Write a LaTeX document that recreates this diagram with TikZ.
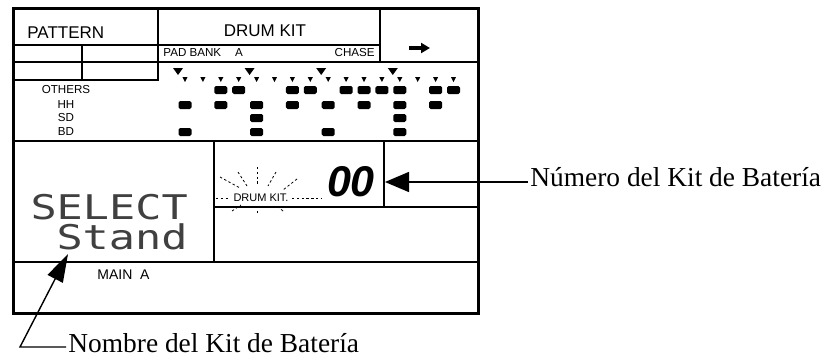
\documentclass[tikz,border=0pt]{standalone}
\usepackage{fontspec}
\setmainfont{Liberation Serif}
\setsansfont{Liberation Sans}
\setmonofont{DejaVu Sans Mono}
\usetikzlibrary{arrows.meta, positioning, calc}

\begin{document}
\begin{tikzpicture}[x=0.5pt, y=-0.5pt,
    outerline/.style={line width=1.5pt},
    rule/.style={line width=1pt},
    hdr/.style={font=\sffamily\fontsize{8.5}{9}\selectfont, inner sep=0pt},
    tag/.style={font=\sffamily\fontsize{5.8}{6}\selectfont, inner sep=0pt},
    blk/.style={fill, rounded corners=0.8pt, minimum width=6.5pt, minimum height=4pt, inner sep=0pt},
    lcd/.style={font=\ttfamily\fontsize{17}{15}\selectfont, inner sep=0pt, anchor=north west,
                xscale=1.28, black!75},
    ray/.style={line width=0.4pt, dash pattern=on 1.2pt off 1.2pt},
    calltext/.style={font=\fontsize{13.7}{16}\selectfont, inner sep=0pt},
    lead/.style={line width=0.7pt}
]
    \useasboundingbox (0,0) rectangle (824,359);

    % panel outline
    \draw[outerline] (13,8) rectangle (478,313);
    \draw[rule] (158,8) -- (158,80) -- (13,80);
    \draw[rule] (13,45) -- (380,45);
    \draw[rule] (13,62) -- (478,62);
    \draw[rule] (82,45) -- (82,80);
    \draw[rule] (380,8) -- (380,62);
    \draw[rule] (13,141) -- (478,141);
    \draw[rule] (214,141) -- (214,262);
    \draw[rule] (384,141) -- (384,207);
    \draw[rule] (214,207) -- (478,207);
    \draw[rule] (13,262) -- (478,262);

    % header texts
    \node[hdr, anchor=west] (pattern) at (27,33) {PATTERN};
    \node[hdr] (drumkit) at (265,31) {DRUM KIT};
    \node[tag, anchor=west] (padbank) at (163,53) {PAD BANK\hspace{7pt}A};
    \node[tag, anchor=east] (chase) at (375,53) {CHASE};
    \coordinate (fwd-a) at (409,48);
    \coordinate (fwd-b) at (430,48);
    \draw[line width=2pt, -{Triangle[length=4.5pt, width=5pt]}] (fwd-a) -- (fwd-b);

    % step markers
    \foreach \s in {1,...,16}
        \fill ({185+17.9*(\s-1)-2.6},77) -- ++(5.2,0) -- ++(-2.6,5) -- cycle;
    \foreach \s in {1,5,9,13}
        \fill ({178+17.9*(\s-1)-5},68) -- ++(10,0) -- ++(-5,7) -- cycle;

    % row labels
    \node[tag] (others) at (66,90) {OTHERS};
    \node[tag] (hh) at (66,105) {HH};
    \node[tag] (sd) at (66,118) {SD};
    \node[tag] (bd) at (66,132) {BD};

    % pattern blocks
    \foreach \s in {3,4,7,8,10,11,12,13,15,16}
        \node[blk] (oth-\s) at ({185+17.9*(\s-1)},90) {};
    \foreach \s in {1,3,5,7,9,11,13,15}
        \node[blk] (hh-\s) at ({185+17.9*(\s-1)},105) {};
    \foreach \s in {5,13}
        \node[blk] (sd-\s) at ({185+17.9*(\s-1)},118) {};
    \foreach \s in {1,5,9,13}
        \node[blk] (bd-\s) at ({185+17.9*(\s-1)},132) {};

    % kit name and number
    \node[lcd] (kitname) at (30,194) {SELECT};
    \node[lcd] (kitstand) at (56,223) {Stand};
    \node[font=\sffamily\bfseries\itshape\fontsize{21.5}{22}\selectfont, inner sep=0pt]
        (kitnum) at (351,182) {00};
    \node[tag, font=\sffamily\fontsize{5.5}{6}\selectfont] (kitlabel) at (261,198) {DRUM KIT.};
    \foreach \xa/\ya/\xb/\yb in {220/177/240/188, 238/172/247/186, 257/167/257/185,
                       276/172/268/186, 297/179/283/190, 216/198/229/198,
                       292/198/322/198, 232/211/241/205, 257/206/257/214,
                       283/211/276/205}
        \draw[ray] (\xa,\ya) -- (\xb,\yb);
    \node[hdr, anchor=west, font=\sffamily\fontsize{7}{8}\selectfont] (mainA) at (97,275) {MAIN\ \ A};

    % callouts
    \node[calltext, anchor=base west] (numtext) at (530,186) {Número del Kit de Batería};
    \coordinate (numtip) at (385,182);
    \draw[lead, -{Triangle[length=12pt, width=10pt]}]
        ($(numtext.base west)+(-2,-4)$) -- (numtip);

    \node[calltext, anchor=base west] (nametext) at (68,352) {Nombre del Kit de Batería};
    \coordinate (namecorner) at (20,347);
    \coordinate (nametip) at (68,254);
    \draw[lead, -{Triangle[length=14pt, width=8.5pt]}]
        ($(nametext.base west)+(-2,-5)$) -- (namecorner) -- (nametip);
\end{tikzpicture}
\end{document}
